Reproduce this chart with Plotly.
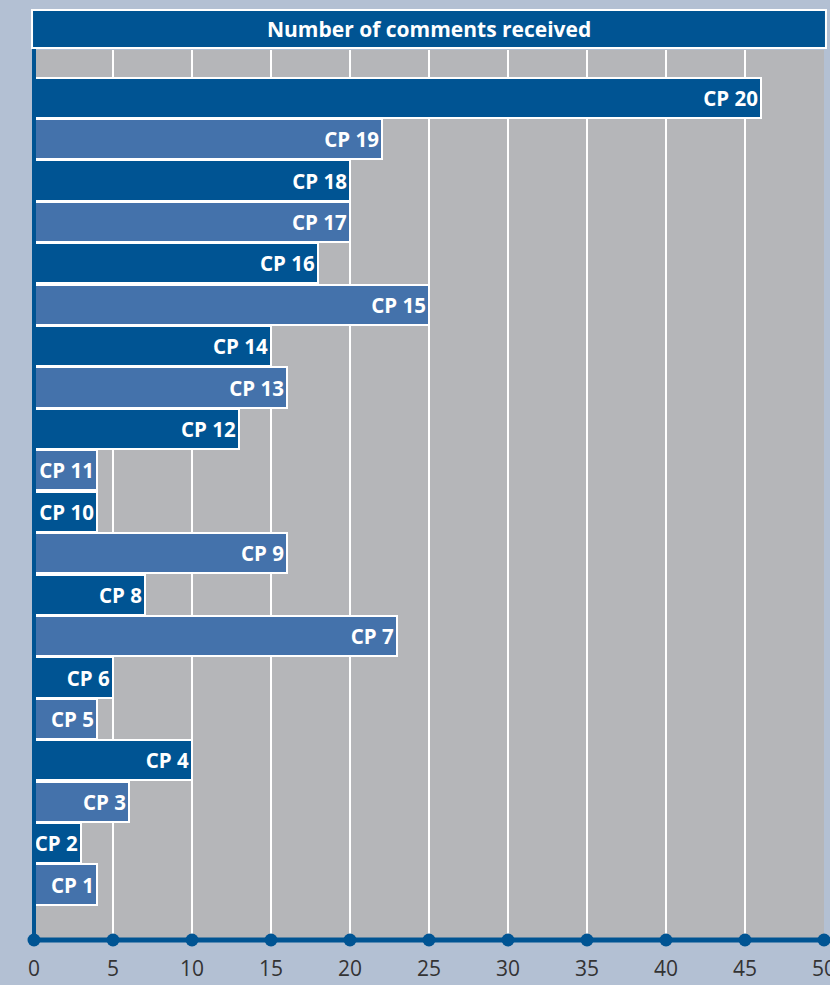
import plotly.graph_objects as go

categories = [f"CP {i}" for i in range(1, 21)]
values = [4, 3, 6, 10, 4, 5, 23, 7, 16, 4, 4, 13, 16, 15, 25, 18, 20, 20, 22, 46]
tick_vals = [0, 5, 10, 15, 20, 25, 30, 35, 40, 45, 50]
tick_text = [str(v) for v in tick_vals]
title_text = "Number of comments received"

DARK = "#005493"
LIGHT = "#4472AB"
BG = "#B3C0D3"
PLOT_BG = "#B5B6B9"

positions = list(range(1, len(categories) + 1))
colors = [LIGHT if i % 2 == 1 else DARK for i in positions]
Y_MIN, Y_MAX = -0.34, 21.15

fig = go.Figure()
fig.add_trace(go.Bar(
    x=values, y=positions, orientation="h",
    width=0.97,
    marker=dict(color=colors, line=dict(color="white", width=2)),
    text=categories, textposition="inside", insidetextanchor="end",
    constraintext="none",
    textfont=dict(color="white", size=20.5, family="Open Sans", weight="bold"),
    cliponaxis=False, hoverinfo="skip",
))
fig.add_trace(go.Scatter(
    x=tick_vals, y=[Y_MIN] * len(tick_vals), mode="markers",
    marker=dict(color=DARK, size=13),
    cliponaxis=False, hoverinfo="skip",
))

fig.update_layout(
    width=830, height=985, autosize=False,
    margin=dict(l=34, r=6, t=50, b=45, autoexpand=False),
    paper_bgcolor=BG, plot_bgcolor=PLOT_BG,
    showlegend=False, bargap=0,
    xaxis=dict(range=[0, 50], tickvals=tick_vals, ticktext=tick_text,
               showgrid=True, gridcolor="white", gridwidth=1.5,
               zeroline=False, showline=False, ticks="", automargin=False,
               tickfont=dict(size=21, color="#333333", family="Open Sans"),
               ticklabelstandoff=14, ticklabeloverflow="allow", fixedrange=True),
    yaxis=dict(range=[Y_MIN, Y_MAX], visible=False, fixedrange=True, automargin=False),
    shapes=[
        dict(type="line", xref="paper", yref="paper", x0=0, x1=1.01, y0=0, y1=0,
             line=dict(color=DARK, width=5), layer="below"),
        dict(type="line", xref="paper", yref="paper", x0=0, x1=0, y0=0, y1=1.045,
             line=dict(color=DARK, width=4), layer="above"),
        dict(type="rect", xref="paper", yref="paper", x0=-0.0025, x1=1.0025,
             y0=1.0022, y1=1.045, fillcolor=DARK, line=dict(color="white", width=2)),
    ],
    annotations=[dict(text=f"<b>{title_text}</b>", xref="paper", yref="paper",
                      x=0.5, y=1.0236, xanchor="center", yanchor="middle",
                      showarrow=False,
                      font=dict(color="white", size=21, family="Open Sans"))],
)
fig.write_html(
    "out.html",
    config={"displayModeBar": False, "responsive": False},
    post_script="document.documentElement.style.overflow='hidden';"
                "document.body.style.overflow='hidden';"
                "document.body.style.margin='0';document.body.style.padding='0';"
                "document.body.style.background='%s';" % BG,
)
